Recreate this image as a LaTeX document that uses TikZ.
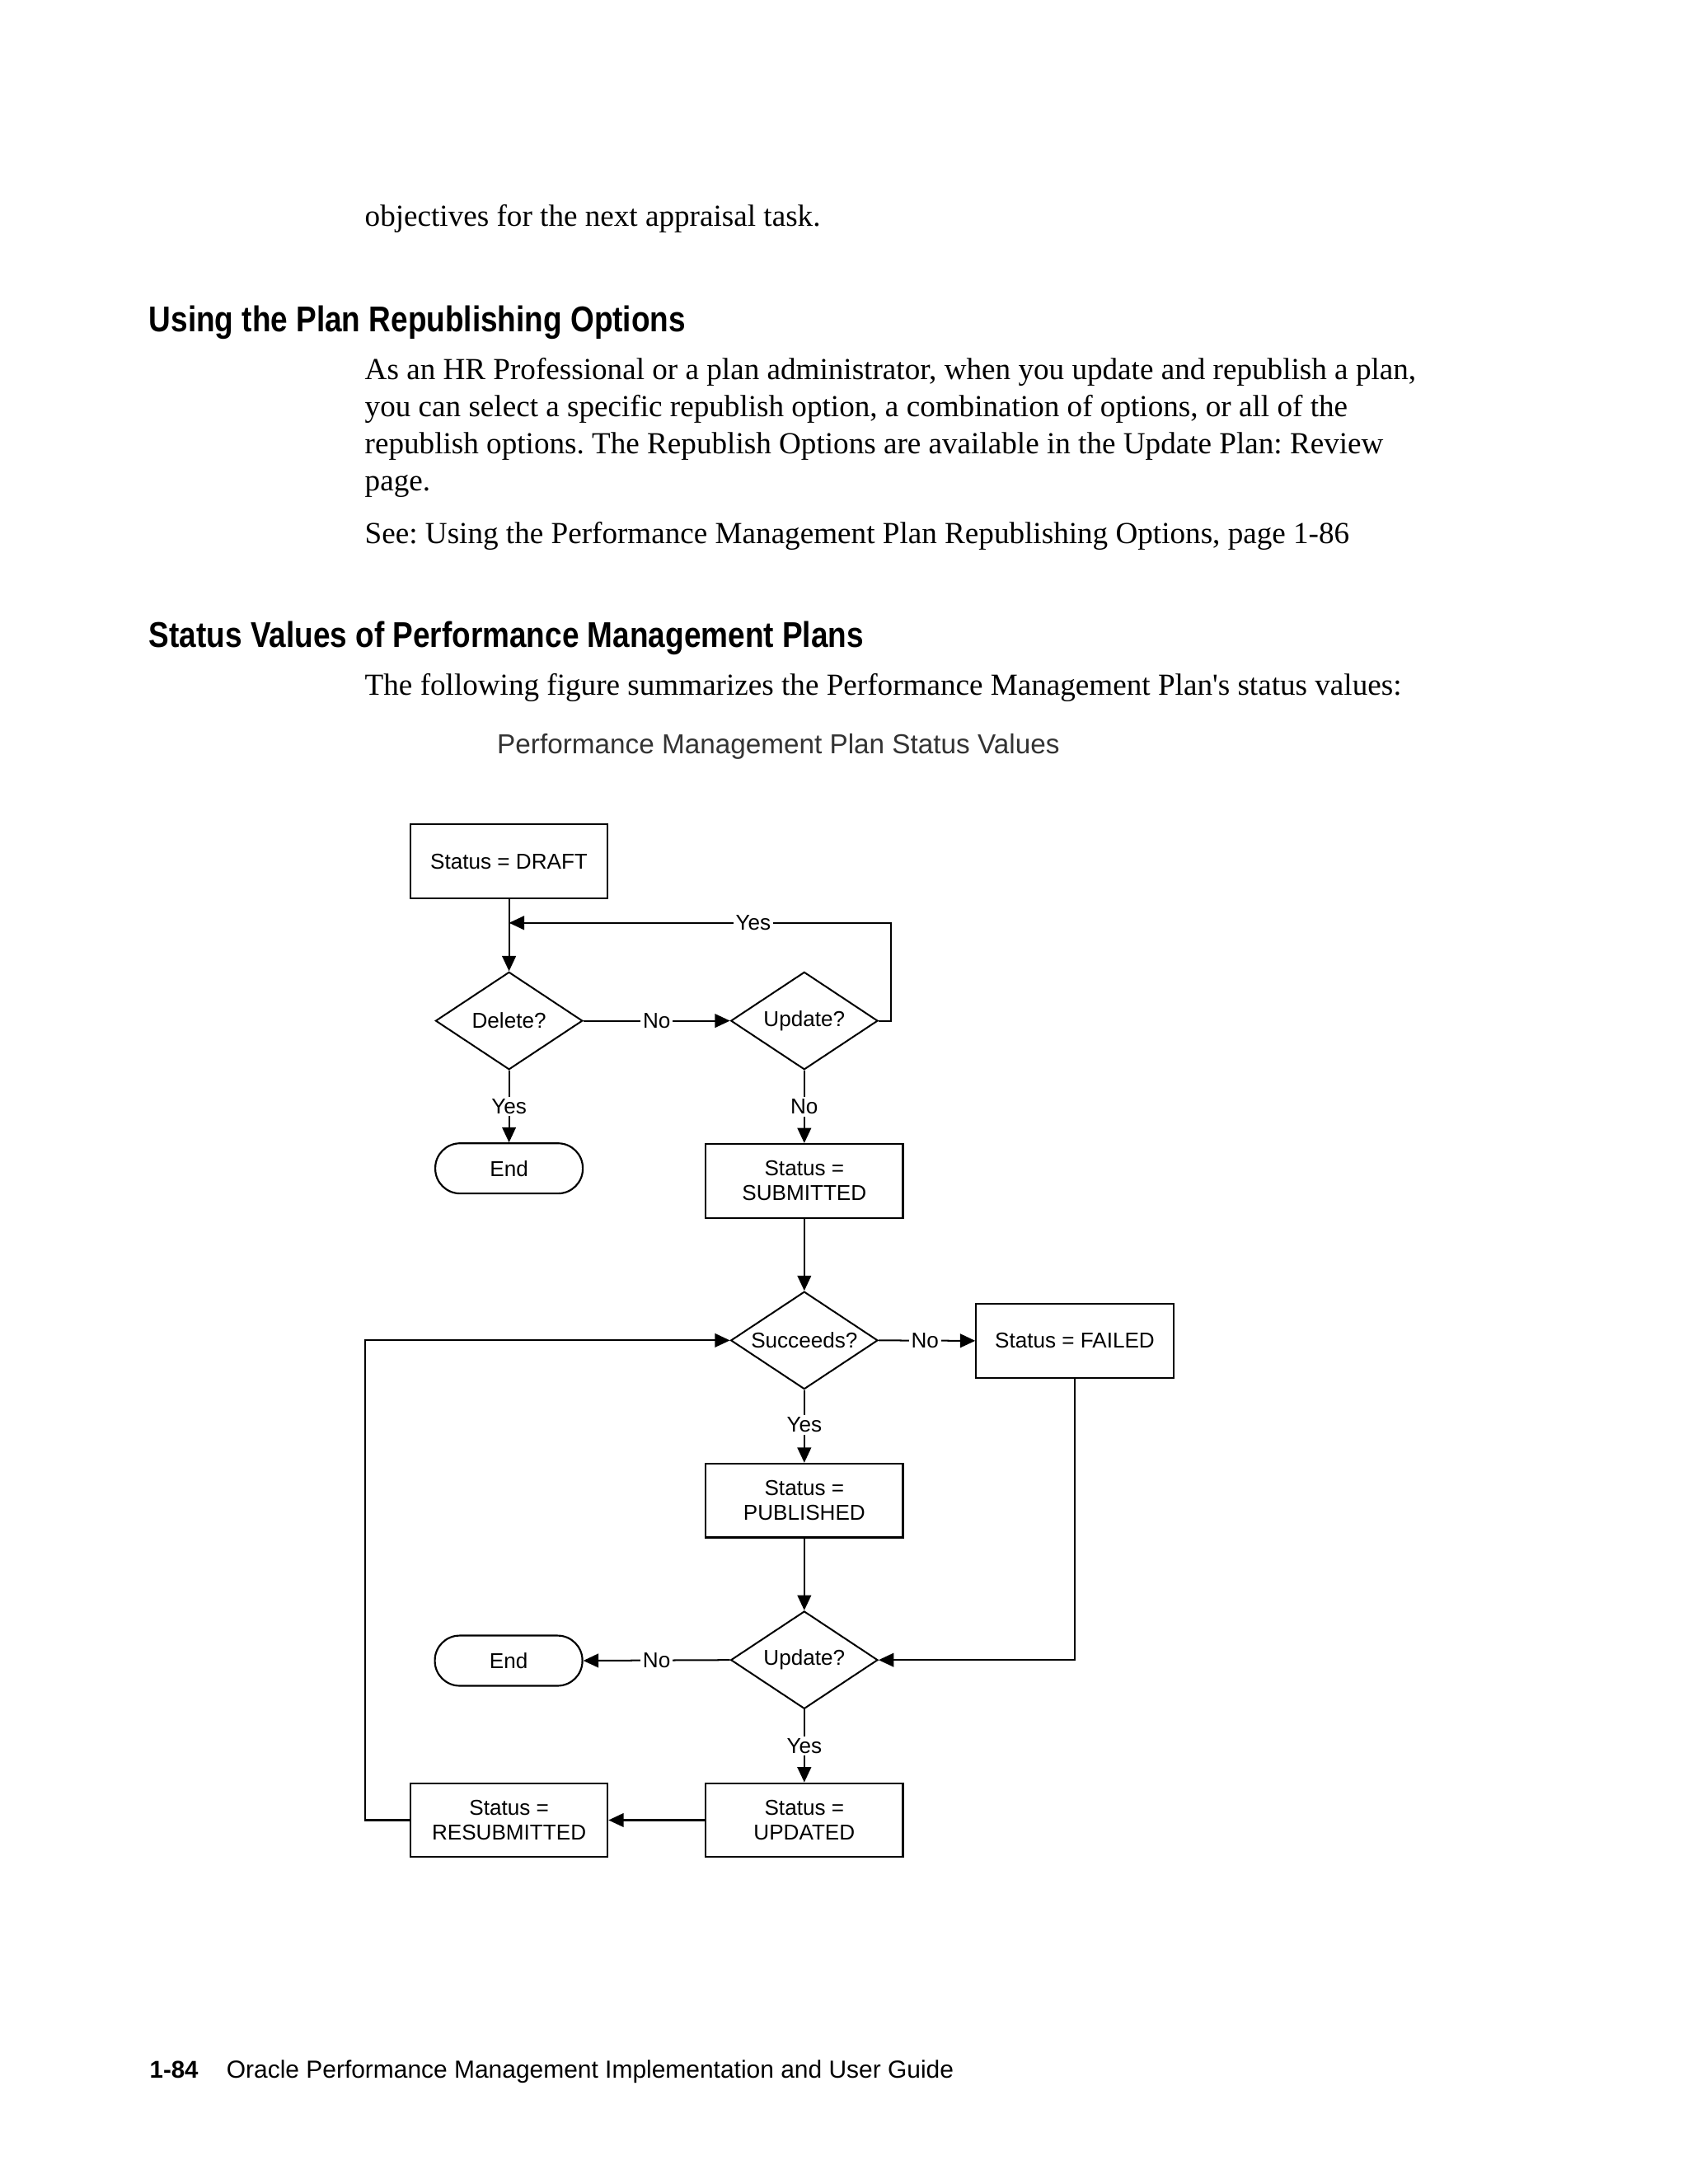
\documentclass[tikz,border=0pt]{standalone}
\usepackage{fontspec}
\usetikzlibrary{arrows.meta,shapes.geometric}
\newfontfamily\bodyfont{Liberation Serif}
\newfontfamily\headfont[FakeStretch=0.85]{Liberation Sans}
\newfontfamily\diafont{Liberation Sans}
\frenchspacing
\begin{document}
\begin{tikzpicture}[x=0.505pt,y=-0.505pt,
  pagetext/.style={anchor=base west, inner sep=0pt, outer sep=0pt},
  bodytxt/.style={pagetext, font=\bodyfont\fontsize{11.1}{13}\selectfont},
  headtxt/.style={pagetext, font=\headfont\bfseries\fontsize{13}{15}\selectfont},
  dfont/.style={font=\diafont\fontsize{7.8}{9}\selectfont},
  box/.style={draw, line width=0.65pt, minimum width=71.5pt, minimum height=26.8pt, inner sep=1pt, align=center, dfont},
  dec/.style={draw, diamond, aspect=1.5, inner sep=0pt, minimum width=53.3pt, minimum height=35.4pt, line width=0.6pt, dfont},
  term/.style={draw, rounded corners=9pt, minimum width=53.5pt, minimum height=18.2pt, inner sep=1pt, line width=0.65pt, dfont},
  conn/.style={line width=0.6pt},
  arr/.style={conn, -{Triangle[length=5.5pt,width=5pt]}},
  lbl/.style={fill=white, inner sep=0.8pt, dfont}
]
\useasboundingbox (0,0) rectangle (1211.9,1568.3);

% page text
\node[bodytxt] (t0) at (262,162.7) {objectives for the next appraisal task.};
\node[headtxt] (h1) at (107,238.3) {Using the Plan Republishing Options};
\node[bodytxt] (p1) at (262,272.6) {As an HR Professional or a plan administrator, when you update and republish a plan,};
\node[bodytxt] (p2) at (262,299.4) {you can select a specific republish option, a combination of options, or all of the};
\node[bodytxt] (p3) at (262,326.0) {republish options. The Republish Options are available in the Update Plan: Review};
\node[bodytxt] (p4) at (262,352.6) {page.};
\node[bodytxt] (p5) at (262,390.5) {See: Using the Performance Management Plan Republishing Options, page 1-86};
\node[headtxt] (h2) at (107,465.0) {Status Values of Performance Management Plans};
\node[bodytxt] (p6) at (262,499.4) {The following figure summarizes the Performance Management Plan's status values:};
\node[pagetext, font=\diafont\fontsize{9.95}{11}\selectfont, text=black!80] (cap) at (357,541.5) {Performance Management Plan Status Values};
\node[pagetext, font=\diafont\bfseries\fontsize{8.8}{10}\selectfont] (pg) at (107.5,1492) {1-84};
\node[pagetext, font=\diafont\fontsize{8.95}{10}\selectfont] (ft) at (162.7,1492) {Oracle Performance Management Implementation and User Guide};

% flowchart nodes
\node[box] (draft) at (365.5,618.5) {Status = DRAFT};
\node[dec] (del) at (365.5,733) {Delete?};
\node[dec] (upd1) at (577.5,733) {Update?};
\node[term] (end1) at (365.5,839) {End};
\node[box] (sub) at (577.5,848) {Status =\\SUBMITTED};
\node[dec] (succ) at (577.5,962.5) {Succeeds?};
\node[box] (fail) at (771.7,962.8) {Status = FAILED};
\node[box] (pub) at (577.5,1077.5) {Status =\\PUBLISHED};
\node[dec] (upd2) at (577.5,1192) {Update?};
\node[term] (end2) at (365.2,1192.5) {End};
\node[box] (updd) at (577.5,1307) {Status =\\UPDATED};
\node[box] (resub) at (365.5,1307) {Status =\\RESUBMITTED};

\coordinate (cY1) at (639.5,662.7);
\coordinate (cY2) at (365.5,662.7);
\coordinate (cL) at (262.4,962.5);

% connectors
\draw[arr] (draft.south) -- (del.north);
\draw[arr] (upd1.east) -- (upd1.east -| cY1) -- (cY1) -- node[lbl,pos=0.36]{Yes} (cY2);
\draw[arr] (del.east) -- node[lbl]{No} (upd1.west);
\draw[arr] (del.south) -- node[lbl]{Yes} (end1.north);
\draw[arr] (upd1.south) -- node[lbl]{No} (sub.north);
\draw[arr] (sub.south) -- (succ.north);
\draw[arr] (succ.east) -- node[lbl,pos=0.48]{No} (fail.west);
\draw[arr] (succ.south) -- node[lbl,pos=0.48]{Yes} (pub.north);
\draw[arr] (pub.south) -- (upd2.north);
\draw[arr] (fail.south) |- (upd2.east);
\draw[arr] (upd2.west) -- node[lbl]{No} (end2.east);
\draw[arr] (upd2.south) -- node[lbl]{Yes} (updd.north);
\draw[arr] (updd.west) -- (resub.east);
\draw[arr] (resub.west) -| (cL) -- (succ.west);
\end{tikzpicture}
\end{document}
